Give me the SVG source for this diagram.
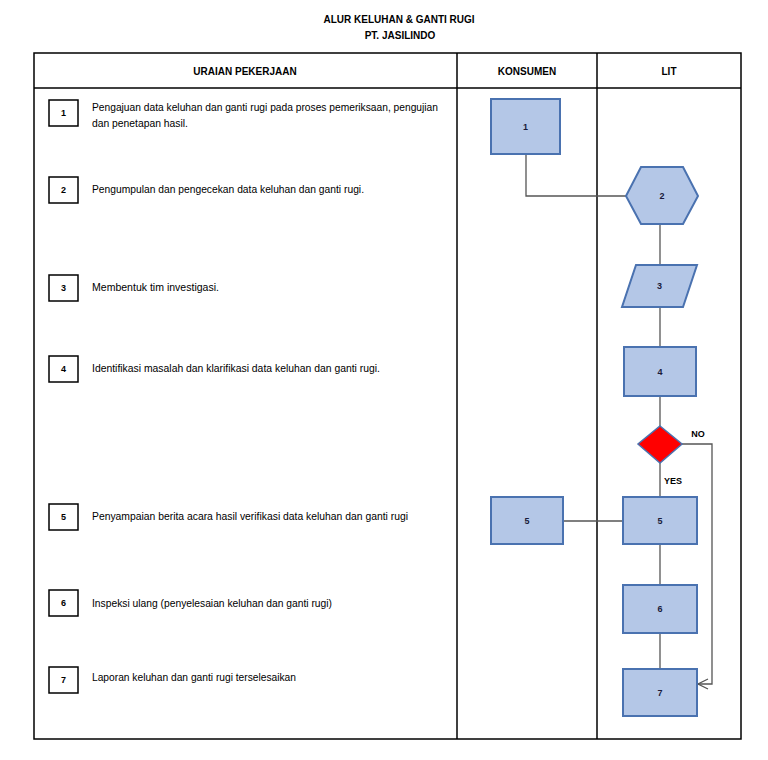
<svg xmlns="http://www.w3.org/2000/svg" width="768" height="760" viewBox="0 0 768 760">
<style>
text{font-family:"Liberation Sans",Arial,sans-serif;fill:#000}
.title{font-size:10px;font-weight:bold;text-anchor:middle}
.hdr{font-size:10px;font-weight:bold;text-anchor:middle}
.desc{font-size:10px}
.num{font-size:9px;font-weight:bold;text-anchor:middle}
.nbox{fill:#fff;stroke:#000;stroke-width:1.5}
.shape{fill:#b4c7e7;stroke:#4a72b0;stroke-width:2}
.lbl{font-size:9px;font-weight:bold;text-anchor:middle;fill:#1a1a3a}
.con{fill:none;stroke:#555;stroke-width:1.3}
.grid{fill:none;stroke:#000;stroke-width:1.5}
</style>
<defs>
<marker id="arr" markerWidth="12" markerHeight="12" refX="11" refY="6" orient="auto" markerUnits="userSpaceOnUse">
<path d="M1,1 L11,6 L1,11" fill="none" stroke="#555" stroke-width="1.2"/>
</marker>
</defs>
<rect width="768" height="760" fill="#fff"/>
<text class="title" x="399" y="23">ALUR KELUHAN &amp; GANTI RUGI</text>
<text class="title" x="400" y="39">PT. JASILINDO</text>
<g id="table">
<rect class="grid" x="34" y="53" width="707" height="686"/>
<line class="grid" x1="34" y1="88" x2="741" y2="88"/>
<line class="grid" x1="457" y1="53" x2="457" y2="739"/>
<line class="grid" x1="597" y1="53" x2="597" y2="739"/>
<text class="hdr" x="245" y="75">URAIAN PEKERJAAN</text>
<text class="hdr" x="527" y="75">KONSUMEN</text>
<text class="hdr" x="669" y="75">LIT</text>
</g>
<g id="steps">
<g id="step1"><rect class="nbox" x="49" y="100" width="29" height="26"/><text class="num" x="63.5" y="116">1</text>
<text class="desc" x="92" y="111" textLength="346" lengthAdjust="spacingAndGlyphs">Pengajuan data keluhan dan ganti rugi pada proses pemeriksaan, pengujian</text>
<text class="desc" x="92" y="127" textLength="96" lengthAdjust="spacingAndGlyphs">dan penetapan hasil.</text></g>
<g id="step2"><rect class="nbox" x="49" y="177" width="29" height="26"/><text class="num" x="63.5" y="193">2</text>
<text class="desc" x="92" y="193" textLength="272" lengthAdjust="spacingAndGlyphs">Pengumpulan dan pengecekan data keluhan dan ganti rugi.</text></g>
<g id="step3"><rect class="nbox" x="49" y="275" width="29" height="26"/><text class="num" x="63.5" y="291">3</text>
<text class="desc" x="92" y="291" textLength="127" lengthAdjust="spacingAndGlyphs">Membentuk tim investigasi.</text></g>
<g id="step4"><rect class="nbox" x="49" y="356" width="29" height="26"/><text class="num" x="63.5" y="372">4</text>
<text class="desc" x="92" y="372" textLength="288" lengthAdjust="spacingAndGlyphs">Identifikasi masalah dan klarifikasi data keluhan dan ganti rugi.</text></g>
<g id="step5"><rect class="nbox" x="49" y="504" width="29" height="26"/><text class="num" x="63.5" y="520">5</text>
<text class="desc" x="92" y="520" textLength="316" lengthAdjust="spacingAndGlyphs">Penyampaian berita acara hasil verifikasi data keluhan dan ganti rugi</text></g>
<g id="step6"><rect class="nbox" x="49" y="590" width="29" height="26"/><text class="num" x="63.5" y="606">6</text>
<text class="desc" x="92" y="607" textLength="240" lengthAdjust="spacingAndGlyphs">Inspeksi ulang (penyelesaian keluhan dan ganti rugi)</text></g>
<g id="step7"><rect class="nbox" x="49" y="667" width="29" height="26"/><text class="num" x="63.5" y="683">7</text>
<text class="desc" x="92" y="681" textLength="204" lengthAdjust="spacingAndGlyphs">Laporan keluhan dan ganti rugi terselesaikan</text></g>
</g>
<g id="connectors">
<polyline class="con" points="526,154 526,196 626,196"/>
<line class="con" x1="660" y1="224" x2="660" y2="265"/>
<line class="con" x1="660" y1="307" x2="660" y2="347"/>
<line class="con" x1="660" y1="396" x2="660" y2="426"/>
<line class="con" x1="660" y1="463" x2="660" y2="497"/>
<line class="con" x1="563" y1="521" x2="623" y2="521"/>
<line class="con" x1="660" y1="544" x2="660" y2="585"/>
<line class="con" x1="660" y1="633" x2="660" y2="669"/>
<polyline class="con" points="682,444 712,444 712,684 698,684" marker-end="url(#arr)"/>
<text class="lbl" x="698" y="437" style="fill:#000">NO</text>
<text class="lbl" x="673" y="484" style="fill:#000">YES</text>
</g>
<g id="k1"><rect class="shape" x="491" y="99" width="69" height="55"/><text class="lbl" x="525.5" y="130">1</text></g>
<g id="l2"><polygon class="shape" points="626,196 641,167 683,167 698,196 683,224 641,224"/><text class="lbl" x="662" y="199">2</text></g>
<g id="l3"><polygon class="shape" points="636,265 697,265 683,307 622,307"/><text class="lbl" x="659.5" y="289">3</text></g>
<g id="l4"><rect class="shape" x="624" y="347" width="72" height="49"/><text class="lbl" x="660" y="375">4</text></g>
<g id="decision"><polygon points="660,426 682,444 660,463 638,444" fill="#ff0000" stroke="#4a72b0" stroke-width="1.5"/></g>
<g id="k5"><rect class="shape" x="491" y="497" width="72" height="47"/><text class="lbl" x="527" y="524">5</text></g>
<g id="l5"><rect class="shape" x="623" y="497" width="74" height="47"/><text class="lbl" x="660" y="524">5</text></g>
<g id="l6"><rect class="shape" x="623" y="585" width="74" height="48"/><text class="lbl" x="660" y="612">6</text></g>
<g id="l7"><rect class="shape" x="623" y="669" width="74" height="47"/><text class="lbl" x="660" y="696">7</text></g>
</svg>
